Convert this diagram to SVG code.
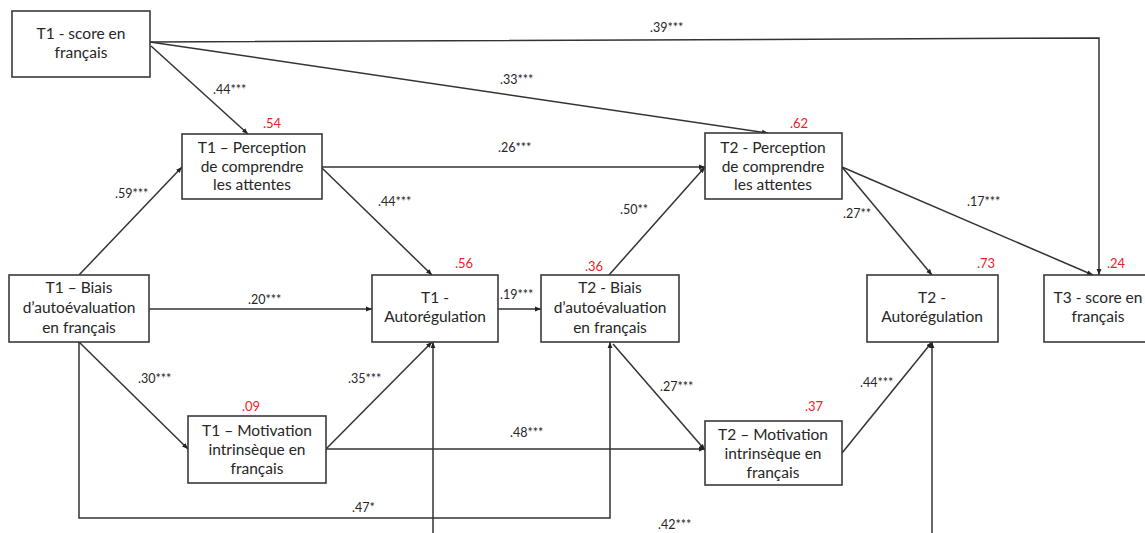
<svg xmlns="http://www.w3.org/2000/svg" width="1145" height="533" viewBox="0 0 1145 533">
<style>
.box{fill:#fff;stroke:#3a3a3a;stroke-width:1.6}
.nt{font-family:Lato,"Liberation Sans",sans-serif;font-size:15.5px;fill:#262626;text-anchor:middle}
.c{fill:none;stroke:#333;stroke-width:1.5}
.lb{font-family:Lato,"Liberation Sans",sans-serif;font-size:12.5px;fill:#262626}
.r2{font-family:Lato,"Liberation Sans",sans-serif;font-size:13px;fill:#f0202a}
</style>
<defs>
<marker id="a" viewBox="0 0 10 10" refX="10" refY="5" markerWidth="6" markerHeight="6" markerUnits="userSpaceOnUse" orient="auto">
<path d="M0,1 L10,5 L0,9 z" fill="#222"/>
</marker>
</defs>
<rect width="1145" height="533" fill="#fff"/>
<g id="connectors">
<path class="c" d="M150,42 L1099,38 L1099,275" marker-end="url(#a)"/>
<path class="c" d="M150,42 L768,133" marker-end="url(#a)"/>
<path class="c" d="M151,46 L248,134" marker-end="url(#a)"/>
<path class="c" d="M79,275 L182,167" marker-end="url(#a)"/>
<path class="c" d="M322,167 L705,167" marker-end="url(#a)"/>
<path class="c" d="M322,168 L432,275" marker-end="url(#a)"/>
<path class="c" d="M609,275 L705,167" marker-end="url(#a)"/>
<path class="c" d="M842,167 L932,275" marker-end="url(#a)"/>
<path class="c" d="M842,167 L1093,275" marker-end="url(#a)"/>
<path class="c" d="M149,309 L372,309" marker-end="url(#a)"/>
<path class="c" d="M498,309 L541,309" marker-end="url(#a)"/>
<path class="c" d="M79,342 L188,449" marker-end="url(#a)"/>
<path class="c" d="M326,449 L432,342" marker-end="url(#a)"/>
<path class="c" d="M326,449 L705,449" marker-end="url(#a)"/>
<path class="c" d="M79,342 L79,518 L610,518 L610,342" marker-end="url(#a)"/>
<path class="c" d="M613,344 L705,450" marker-end="url(#a)"/>
<path class="c" d="M842,453 L932,342" marker-end="url(#a)"/>
<path class="c" d="M433,533 L433,342" marker-end="url(#a)"/>
<path class="c" d="M932,533 L932,342" marker-end="url(#a)"/>
</g>
<g id="labels">
<text class="lb" x="650" y="32">.39***</text>
<text class="lb" x="500" y="84">.33***</text>
<text class="lb" x="213" y="94">.44***</text>
<text class="lb" x="115" y="198">.59***</text>
<text class="lb" x="498" y="152">.26***</text>
<text class="lb" x="378" y="206">.44***</text>
<text class="lb" x="620" y="214">.50**</text>
<text class="lb" x="967" y="206">.17***</text>
<text class="lb" x="843" y="218">.27**</text>
<text class="lb" x="248" y="304">.20***</text>
<text class="lb" x="500" y="299">.19***</text>
<text class="lb" x="138" y="383">.30***</text>
<text class="lb" x="348" y="383">.35***</text>
<text class="lb" x="660" y="391">.27***</text>
<text class="lb" x="860" y="387">.44***</text>
<text class="lb" x="510" y="437">.48***</text>
<text class="lb" x="352" y="512">.47*</text>
<text class="lb" x="658" y="529">.42***</text>
<text class="r2" x="263" y="128">.54</text>
<text class="r2" x="790" y="128">.62</text>
<text class="r2" x="455" y="268">.56</text>
<text class="r2" x="585" y="271">.36</text>
<text class="r2" x="977" y="268">.73</text>
<text class="r2" x="1107" y="268">.24</text>
<text class="r2" x="242" y="411">.09</text>
<text class="r2" x="805" y="411">.37</text>
</g>
<g id="t1score"><rect class="box" x="12" y="11" width="138" height="66"/><text class="nt" x="81" y="39">T1 - score en</text><text class="nt" x="81" y="58">français</text></g>
<g id="t1perc"><rect class="box" x="182" y="134" width="140" height="65"/><text class="nt" x="252" y="153">T1 – Perception</text><text class="nt" x="252" y="172">de comprendre</text><text class="nt" x="252" y="190">les attentes</text></g>
<g id="t2perc"><rect class="box" x="705" y="133" width="137" height="66"/><text class="nt" x="773" y="153">T2 - Perception</text><text class="nt" x="773" y="172">de comprendre</text><text class="nt" x="773" y="190">les attentes</text></g>
<g id="t1biais"><rect class="box" x="9" y="275" width="140" height="67"/><text class="nt" x="79" y="293">T1 – Biais</text><text class="nt" x="79" y="313">d’autoévaluation</text><text class="nt" x="79" y="333">en français</text></g>
<g id="t1autoreg"><rect class="box" x="372" y="275" width="126" height="67"/><text class="nt" x="435" y="303">T1 -</text><text class="nt" x="435" y="322">Autorégulation</text></g>
<g id="t2biais"><rect class="box" x="541" y="275" width="138" height="67"/><text class="nt" x="610" y="293">T2 - Biais</text><text class="nt" x="610" y="313">d’autoévaluation</text><text class="nt" x="610" y="333">en français</text></g>
<g id="t2autoreg"><rect class="box" x="867" y="275" width="131" height="67"/><text class="nt" x="932" y="303">T2 -</text><text class="nt" x="932" y="322">Autorégulation</text></g>
<g id="t3score"><rect class="box" x="1044" y="275" width="110" height="67"/><text class="nt" x="1098" y="303">T3 - score en</text><text class="nt" x="1098" y="322">français</text></g>
<g id="t1motiv"><rect class="box" x="188" y="416" width="138" height="67"/><text class="nt" x="257" y="436">T1 – Motivation</text><text class="nt" x="257" y="455">intrinsèque en</text><text class="nt" x="257" y="474">français</text></g>
<g id="t2motiv"><rect class="box" x="705" y="421" width="137" height="64"/><text class="nt" x="773" y="440">T2 – Motivation</text><text class="nt" x="773" y="459">intrinsèque en</text><text class="nt" x="773" y="478">français</text></g>
</svg>
